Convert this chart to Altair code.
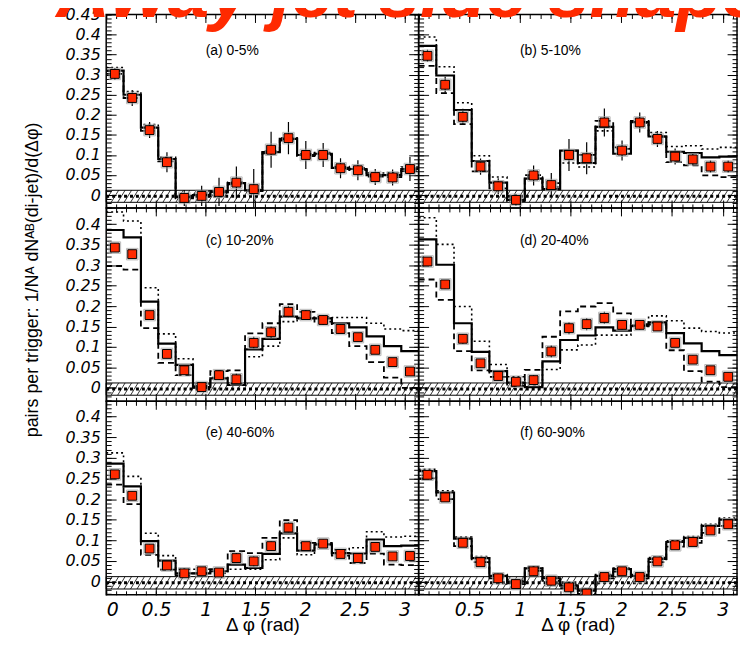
import altair as alt
import pandas as pd
import numpy as np

PI = 3.14159
EDGES = [0.0, 0.1745, 0.3491, 0.5236, 0.6981, 0.8727, 1.0472, 1.2217, 1.3963, 1.5708,
         1.7453, 1.9199, 2.0944, 2.2689, 2.4435, 2.6180, 2.7925, 2.9671, 3.14159]
CENTERS = [(EDGES[i] + EDGES[i + 1]) / 2 for i in range(18)]

LABELS = ["(a) 0-5%", "(b) 5-10%", "(c) 10-20%", "(d) 20-40%", "(e) 40-60%", "(f) 60-90%"]

a_pts = [0.302, 0.242, 0.162, 0.082, -0.007, -0.002, 0.008, 0.031, 0.015, 0.113, 0.142, 0.100, 0.100, 0.067, 0.062, 0.045, 0.044, 0.065]
a_err = [0.015, 0.02, 0.02, 0.025, 0.02, 0.025, 0.035, 0.04, 0.05, 0.045, 0.04, 0.035, 0.03, 0.025, 0.025, 0.02, 0.02, 0.03]
a_solid = [0.31, 0.25, 0.168, 0.09, -0.005, 0.0, 0.008, 0.03, 0.012, 0.107, 0.14, 0.10, 0.103, 0.068, 0.065, 0.05, 0.05, 0.065]
a_dot = [0.318, 0.258, 0.176, 0.094, -0.003, 0.002, 0.01, 0.032, 0.014, 0.11, 0.143, 0.103, 0.106, 0.071, 0.068, 0.055, 0.055, 0.07]
a_dash = [0.302, 0.242, 0.16, 0.084, -0.008, -0.003, 0.006, 0.027, 0.01, 0.104, 0.136, 0.097, 0.1, 0.065, 0.062, 0.046, 0.045, 0.06]

b_pts = [0.347, 0.275, 0.195, 0.071, 0.022, -0.012, 0.049, 0.025, 0.100, 0.092, 0.181, 0.111, 0.181, 0.140, 0.096, 0.089, 0.071, 0.071]
b_err = [0.015, 0.02, 0.02, 0.02, 0.02, 0.015, 0.025, 0.03, 0.04, 0.04, 0.035, 0.025, 0.025, 0.02, 0.02, 0.015, 0.015, 0.015]
b_solid = [0.372, 0.298, 0.212, 0.085, 0.031, -0.012, 0.041, 0.015, 0.111, 0.080, 0.170, 0.103, 0.182, 0.146, 0.108, 0.105, 0.094, 0.096]
b_dot = [0.394, 0.32, 0.23, 0.098, 0.045, -0.01, 0.045, 0.02, 0.08, 0.07, 0.16, 0.119, 0.18, 0.156, 0.121, 0.123, 0.115, 0.119]
b_dash = [0.322, 0.254, 0.177, 0.059, 0.017, -0.015, 0.05, 0.03, 0.111, 0.10, 0.185, 0.115, 0.185, 0.146, 0.082, 0.074, 0.049, 0.045]

c_pts = [0.343, 0.327, 0.178, 0.083, 0.043, 0.002, 0.031, 0.021, 0.110, 0.136, 0.186, 0.178, 0.166, 0.144, 0.124, 0.093, 0.063, 0.04]
c_err = [0.01, 0.01, 0.01, 0.01, 0.01, 0.01, 0.012, 0.015, 0.015, 0.015, 0.015, 0.012, 0.012, 0.012, 0.01, 0.01, 0.01, 0.01]
c_solid = [0.386, 0.368, 0.211, 0.108, 0.056, 0.002, 0.023, 0.007, 0.094, 0.12, 0.174, 0.17, 0.17, 0.158, 0.148, 0.126, 0.102, 0.09]
c_dot = [0.43, 0.408, 0.245, 0.132, 0.071, 0.005, 0.025, 0.01, 0.076, 0.102, 0.162, 0.172, 0.174, 0.172, 0.172, 0.158, 0.144, 0.14]
c_dash = [0.298, 0.289, 0.146, 0.061, 0.031, 0.0, 0.041, 0.043, 0.133, 0.158, 0.205, 0.186, 0.162, 0.134, 0.102, 0.063, 0.025, 0.0]

d_pts = [0.309, 0.253, 0.120, 0.060, 0.029, 0.015, 0.019, 0.089, 0.146, 0.156, 0.171, 0.154, 0.154, 0.150, 0.110, 0.069, 0.043, 0.027]
d_err = [0.01, 0.01, 0.012, 0.01, 0.01, 0.01, 0.012, 0.015, 0.015, 0.015, 0.015, 0.012, 0.012, 0.01, 0.01, 0.01, 0.01, 0.01]
d_solid = [0.363, 0.301, 0.158, 0.088, 0.041, 0.013, 0.002, 0.065, 0.117, 0.128, 0.148, 0.140, 0.152, 0.160, 0.134, 0.109, 0.090, 0.080]
d_dot = [0.416, 0.351, 0.199, 0.114, 0.057, 0.027, 0.004, 0.045, 0.093, 0.105, 0.129, 0.129, 0.150, 0.176, 0.164, 0.146, 0.138, 0.134]
d_dash = [0.265, 0.215, 0.090, 0.043, 0.027, 0.005, 0.044, 0.125, 0.187, 0.199, 0.207, 0.182, 0.156, 0.155, 0.092, 0.041, 0.015, 0.002]

e_pts = [0.260, 0.208, 0.080, 0.039, 0.020, 0.025, 0.022, 0.057, 0.049, 0.086, 0.131, 0.086, 0.092, 0.067, 0.057, 0.084, 0.061, 0.062]
e_err = [0.01, 0.01, 0.01, 0.01, 0.008, 0.008, 0.01, 0.012, 0.012, 0.012, 0.012, 0.01, 0.01, 0.01, 0.01, 0.01, 0.01, 0.01]
e_solid = [0.286, 0.231, 0.098, 0.051, 0.02, 0.02, 0.025, 0.041, 0.033, 0.067, 0.117, 0.075, 0.09, 0.069, 0.068, 0.102, 0.086, 0.087]
e_dot = [0.312, 0.255, 0.117, 0.063, 0.03, 0.03, 0.02, 0.03, 0.03, 0.053, 0.106, 0.065, 0.09, 0.077, 0.082, 0.121, 0.108, 0.11]
e_dash = [0.235, 0.188, 0.065, 0.029, 0.015, 0.02, 0.03, 0.074, 0.069, 0.106, 0.149, 0.094, 0.094, 0.063, 0.045, 0.068, 0.041, 0.04]

f_pts = [0.259, 0.204, 0.094, 0.047, 0.008, -0.006, 0.025, 0.002, -0.014, -0.029, 0.011, 0.025, 0.011, 0.049, 0.088, 0.096, 0.124, 0.139]
f_err = [0.008, 0.008, 0.008, 0.008, 0.008, 0.008, 0.01, 0.01, 0.01, 0.01, 0.01, 0.01, 0.01, 0.008, 0.008, 0.008, 0.008, 0.008]
f_solid = [0.268, 0.216, 0.104, 0.057, 0.014, 0.0, 0.032, 0.008, -0.01, -0.022, 0.014, 0.03, 0.014, 0.055, 0.096, 0.106, 0.135, 0.150]
f_dot = [0.272, 0.22, 0.108, 0.061, 0.017, 0.003, 0.035, 0.011, -0.007, -0.019, 0.017, 0.033, 0.017, 0.058, 0.099, 0.109, 0.139, 0.154]
f_dash = [0.25, 0.2, 0.086, 0.047, 0.008, -0.006, 0.026, 0.002, -0.016, -0.03, 0.008, 0.024, 0.008, 0.047, 0.085, 0.094, 0.118, 0.135]

SERIES = [
    (a_pts, a_err, a_solid, a_dot, a_dash),
    (b_pts, b_err, b_solid, b_dot, b_dash),
    (c_pts, c_err, c_solid, c_dot, c_dash),
    (d_pts, d_err, d_solid, d_dot, d_dash),
    (e_pts, e_err, e_solid, e_dot, e_dash),
    (f_pts, f_err, f_solid, f_dot, f_dash),
]

Y_DOMAINS = [[-0.032, 0.45], [-0.033, 0.44], [-0.032, 0.437]]
Y_TICK_LABELS = [0, 0.05, 0.1, 0.15, 0.2, 0.25, 0.3, 0.35, 0.4, 0.45]
Y_MINOR = [round(-0.03 + 0.01 * i, 3) for i in range(49)]
X_LABELS_LEFT = [0, 0.5, 1, 1.5, 2, 2.5, 3]
X_LABELS_RIGHT = [0.5, 1, 1.5, 2, 2.5, 3]
X_MAJOR = [0, 0.5, 1, 1.5, 2, 2.5, 3]
X_MINOR = [round(0.1 * i, 2) for i in range(32)]

BAND_LO, BAND_HI = -0.018, 0.012
BAND_DASH_Y = -0.003
HATCH_STEP, HATCH_DX = 0.065, 0.075
HATCH_X = [round(-0.08 + HATCH_STEP * i, 4) for i in range(51)]

Y_TITLE = "pairs per trigger: 1/N\u1d2c dN\u1d2c\u1d2e(di-jet)/d(\u0394\u03c6)"
X_TITLE = "\u0394 \u03c6 (rad)"
TITLE = "Away jet side shape"

FONT = "Liberation Sans"
NUMFONT = "DejaVu Sans"
RED = "#ff2a00"
WIDTHS = [315, 321]
H = 195


def tick_axis(orient, values, size):
    return alt.Axis(orient=orient, values=values, labels=False, domain=False, grid=False,
                    ticks=True, tickSize=size, offset=-size, tickColor="black",
                    tickWidth=1, title=None)


def make_panel(i):
    row, col = divmod(i, 2)
    lo, hi = Y_DOMAINS[row]
    pts, err, solid, dot, dash = SERIES[i]
    xsc = alt.Scale(domain=[0, PI], nice=False, zero=False)
    ysc = alt.Scale(domain=[lo, hi], nice=False, zero=False)

    pdf = pd.DataFrame({"x": CENTERS, "y": pts,
                        "lo": [p - e for p, e in zip(pts, err)],
                        "hi": [p + e for p, e in zip(pts, err)]})
    sdf = pd.DataFrame({"x": EDGES, "solid": solid + [solid[-1]],
                        "dot": dot + [dot[-1]], "dash": dash + [dash[-1]]})
    band_df = pd.DataFrame({"x": [0.0], "x2": [PI], "y": [BAND_LO], "y2": [BAND_HI]})
    hatch_df = pd.DataFrame({"x": HATCH_X, "x2": [h + HATCH_DX for h in HATCH_X],
                             "y": [BAND_LO] * len(HATCH_X), "y2": [BAND_HI] * len(HATCH_X)})
    zero_df = pd.DataFrame({"x": [0.0], "x2": [PI], "y": [BAND_DASH_Y]})
    lab_df = pd.DataFrame({"x": [1.0], "y": [0.36], "t": [LABELS[i]]})

    ymaj = [v for v in Y_TICK_LABELS if lo <= v <= hi]
    ymin = [v for v in Y_MINOR if lo <= v <= hi]

    if row == 2:
        xlab = alt.Axis(orient="bottom", values=X_LABELS_LEFT if col == 0 else X_LABELS_RIGHT,
                        format="~g", ticks=False, domain=False, grid=False,
                        labelFont=NUMFONT, labelFontStyle="italic", labelFontSize=19,
                        labelPadding=6, labelColor="black",
                        title=X_TITLE, titleFont=FONT, titleFontSize=19,
                        titleFontWeight="normal", titleColor="black", titlePadding=-4)
    else:
        xlab = None
    if col == 0:
        kw = dict(orient="left", values=ymaj, format="~g", ticks=False, domain=False,
                  grid=False, labelFont=NUMFONT, labelFontStyle="italic",
                  labelFontSize=16, labelPadding=6, labelColor="black")
        if row == 1:
            ylab = alt.Axis(title=Y_TITLE, titleFont=FONT, titleFontSize=18,
                            titleFontWeight="normal", titleColor="black",
                            titlePadding=24, titleY=72, **kw)
        else:
            ylab = alt.Axis(title=None, **kw)
    else:
        ylab = None

    band = alt.Chart(band_df).mark_rect(fillOpacity=0, stroke="black", strokeWidth=1).encode(
        x=alt.X("x:Q", scale=xsc, axis=xlab), x2="x2:Q",
        y=alt.Y("y:Q", scale=ysc, axis=ylab), y2="y2:Q")
    hatch = alt.Chart(hatch_df).mark_rule(color="black", strokeWidth=0.8, clip=True).encode(
        x=alt.X("x:Q", scale=xsc, axis=tick_axis("bottom", X_MAJOR, 8)), x2="x2:Q",
        y=alt.Y("y:Q", scale=ysc, axis=tick_axis("left", ymaj, 10)), y2="y2:Q")
    zero = alt.Chart(zero_df).mark_rule(color="black", strokeWidth=3, strokeDash=[3, 3], clip=True).encode(
        x=alt.X("x:Q", scale=xsc, axis=tick_axis("bottom", X_MINOR, 4)), x2="x2:Q",
        y=alt.Y("y:Q", scale=ysc, axis=tick_axis("left", ymin, 5)))
    dotted = alt.Chart(sdf).mark_line(interpolate="step-after", color="black", strokeWidth=1.6,
                                      strokeDash=[2, 3], clip=True).encode(
        x=alt.X("x:Q", scale=xsc, axis=tick_axis("top", X_MAJOR, 8)),
        y=alt.Y("dot:Q", scale=ysc, axis=tick_axis("right", ymaj, 10)))
    dashed = alt.Chart(sdf).mark_line(interpolate="step-after", color="black", strokeWidth=1.8,
                                      strokeDash=[6, 4], clip=True).encode(
        x=alt.X("x:Q", scale=xsc, axis=tick_axis("top", X_MINOR, 4)),
        y=alt.Y("dash:Q", scale=ysc, axis=tick_axis("right", ymin, 5)))
    solid_l = alt.Chart(sdf).mark_line(interpolate="step-after", color="black", strokeWidth=2.2,
                                       clip=True).encode(
        x=alt.X("x:Q", scale=xsc, axis=None),
        y=alt.Y("solid:Q", scale=ysc, axis=None))
    errs = alt.Chart(pdf).mark_rule(color="black", strokeWidth=1.2, clip=True).encode(
        x=alt.X("x:Q", scale=xsc, axis=None),
        y=alt.Y("lo:Q", scale=ysc, axis=None), y2="hi:Q")
    sysbox = alt.Chart(pdf).mark_square(size=135, filled=False, stroke="#a8a8a8",
                                        strokeWidth=1, opacity=0.8, clip=True).encode(
        x=alt.X("x:Q", scale=xsc, axis=None),
        y=alt.Y("y:Q", scale=ysc, axis=None))
    points = alt.Chart(pdf).mark_square(size=80, fill=RED, stroke="black", strokeWidth=1,
                                        opacity=1, clip=True).encode(
        x=alt.X("x:Q", scale=xsc, axis=None),
        y=alt.Y("y:Q", scale=ysc, axis=None))
    label = alt.Chart(lab_df).mark_text(align="left", baseline="middle", font=FONT,
                                        fontSize=14, color="black").encode(
        x=alt.X("x:Q", scale=xsc, axis=None),
        y=alt.Y("y:Q", scale=ysc, axis=None), text="t:N")

    return alt.layer(band, hatch, zero, dotted, dashed, solid_l, errs, sysbox, points,
                     label).resolve_axis(x="independent", y="independent").properties(
        width=WIDTHS[col], height=H)


panels = [make_panel(i) for i in range(6)]

chart = alt.concat(*panels, columns=2, spacing=0, align="each", bounds="flush").properties(
    title=alt.TitleParams(text=TITLE, anchor="start", frame="bounds", orient="top",
                          offset=-27, dx=34, font=FONT, fontSize=75, fontStyle="italic",
                          fontWeight="bold", color=RED, limit=3000),
    padding={"left": 14, "top": -54, "right": -24, "bottom": 0},
).configure_view(stroke="black", strokeWidth=1.5)

chart.save("out.html", embed_options={"renderer": "svg", "actions": False})
